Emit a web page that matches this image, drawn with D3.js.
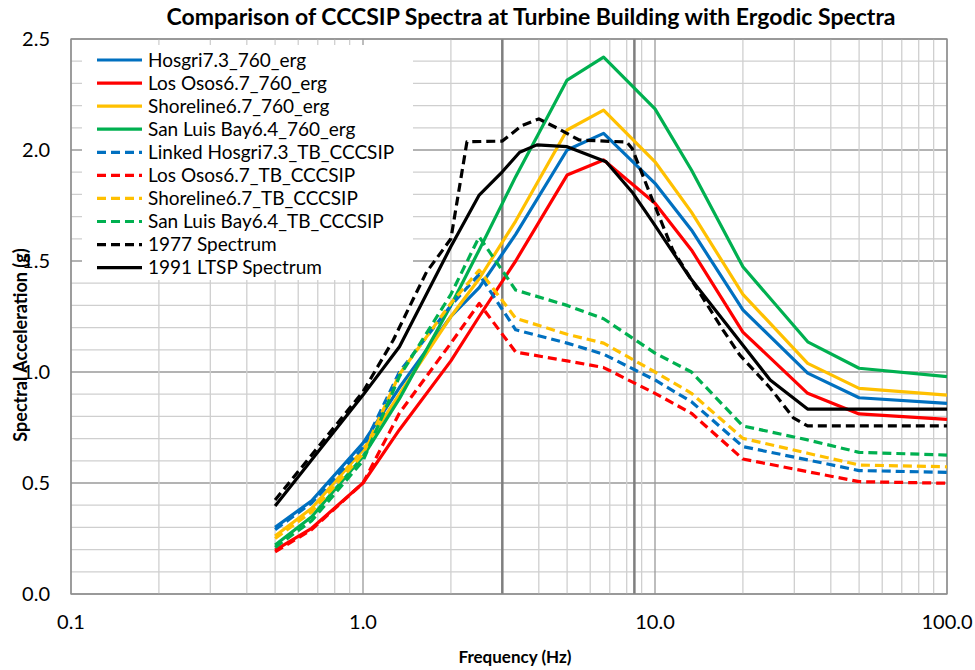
<!DOCTYPE html>
<html>
<head>
<meta charset="utf-8">
<script src="https://cdn.jsdelivr.net/npm/d3@7"></script>
<style>
  body { margin: 0; background: #fff; }
  text { font-family: Lato, "Liberation Sans", sans-serif; }
</style>
</head>
<body>
<script>
// Frequencies (Hz) shared by the ergodic and CCCSIP spectra
const freq = [0.5, 0.667, 1.0, 1.333, 2.0, 2.5, 3.333, 5.0, 6.667, 10.0, 13.33, 20.0, 33.33, 50.0, 100.0];

// Ergodic spectra (g)
const hosgriErg    = [0.30, 0.42, 0.68, 0.93, 1.25, 1.38, 1.62, 2.00, 2.075, 1.85, 1.64, 1.28, 0.995, 0.884, 0.859];
const losOsosErg   = [0.198, 0.296, 0.50, 0.74, 1.05, 1.25, 1.50, 1.887, 1.955, 1.76, 1.55, 1.18, 0.904, 0.811, 0.787];
const shorelineErg = [0.261, 0.386, 0.649, 0.90, 1.25, 1.42, 1.68, 2.09, 2.18, 1.947, 1.72, 1.35, 1.039, 0.926, 0.896];
const slbErg       = [0.221, 0.348, 0.619, 0.88, 1.30, 1.55, 1.88, 2.315, 2.418, 2.185, 1.91, 1.474, 1.136, 1.017, 0.979];

// Turbine building CCCSIP spectra (g)
const hosgriTB    = [0.29, 0.41, 0.66, 1.00, 1.30, 1.44, 1.19, 1.13, 1.08, 0.964, 0.866, 0.664, 0.604, 0.556, 0.548];
const losOsosTB   = [0.19, 0.29, 0.50, 0.815, 1.13, 1.309, 1.09, 1.05, 1.02, 0.904, 0.814, 0.608, 0.551, 0.506, 0.499];
const shorelineTB = [0.25, 0.37, 0.63, 0.99, 1.31, 1.459, 1.242, 1.17, 1.13, 1.00, 0.904, 0.701, 0.634, 0.581, 0.573];
const slbTB       = [0.21, 0.33, 0.60, 0.98, 1.35, 1.609, 1.369, 1.30, 1.24, 1.085, 1.00, 0.757, 0.694, 0.638, 0.626];

// 1977 spectrum
const freq1977 = [0.5, 1.0, 1.27, 1.45, 1.65, 2.0, 2.27, 3.0, 3.5, 4.0, 4.6, 5.5, 8.0, 8.35, 9.8, 11.5, 17.1, 19.5, 24.8, 29.8, 33.3, 100];
const sa1977   = [0.423, 0.911, 1.144, 1.30, 1.45, 1.60, 2.037, 2.04, 2.11, 2.14, 2.10, 2.045, 2.036, 2.007, 1.775, 1.55, 1.189, 1.077, 0.928, 0.793, 0.757, 0.757];

// 1991 LTSP spectrum
const freq1991 = [0.5, 1.0, 1.333, 2.0, 2.5, 3.0, 3.44, 3.94, 5.0, 6.8, 8.4, 9.8, 13.2, 24.8, 33.3, 100];
const sa1991   = [0.396, 0.896, 1.114, 1.565, 1.797, 1.902, 1.99, 2.023, 2.015, 1.947, 1.806, 1.677, 1.423, 0.964, 0.833, 0.833];

// Reference frequencies marked with vertical lines
const refFreqs = [3.0, 8.5];

const xTicks = [0.1, 1, 10, 100];
const yTicks = [0, 0.5, 1.0, 1.5, 2.0, 2.5];

const series = [
    {name: "Hosgri7.3_760_erg", f: freq, v: hosgriErg, color: "#0070C0", dash: false},
    {name: "Los Osos6.7_760_erg", f: freq, v: losOsosErg, color: "#FF0000", dash: false},
    {name: "Shoreline6.7_760_erg", f: freq, v: shorelineErg, color: "#FFC000", dash: false},
    {name: "San Luis Bay6.4_760_erg", f: freq, v: slbErg, color: "#00B050", dash: false},
    {name: "Linked Hosgri7.3_TB_CCCSIP", f: freq, v: hosgriTB, color: "#0070C0", dash: true},
    {name: "Los Osos6.7_TB_CCCSIP", f: freq, v: losOsosTB, color: "#FF0000", dash: true},
    {name: "Shoreline6.7_TB_CCCSIP", f: freq, v: shorelineTB, color: "#FFC000", dash: true},
    {name: "San Luis Bay6.4_TB_CCCSIP", f: freq, v: slbTB, color: "#00B050", dash: true},
    {name: "1977 Spectrum", f: freq1977, v: sa1977, color: "#000000", dash: true},
    {name: "1991 LTSP Spectrum", f: freq1991, v: sa1991, color: "#000000", dash: false}
];

const width = 975,
    height = 670;
const margin = {top: 39, right: 28, bottom: 76, left: 71};

const x = d3.scaleLog()
    .domain([0.1, 100])
    .range([margin.left, width - margin.right]);
const y = d3.scaleLinear()
    .domain([0, 2.5])
    .range([height - margin.bottom, margin.top]);

const svg = d3.select("body").append("svg")
    .attr("width", width)
    .attr("height", height);

// grid
const minorX = [];
for (const d of [0.1, 1, 10]) {
    for (let k = 1; k < 10; k++) minorX.push(k * d);
}
minorX.push(100);

const grid = svg.append("g");
grid.selectAll(".hgrid")
    .data(d3.range(0, 26).map(i => i / 10))
    .join("line")
    .attr("x1", x(0.1)).attr("x2", x(100))
    .attr("y1", d => y(d)).attr("y2", d => y(d))
    .attr("stroke", (d, i) => i % 5 === 0 ? "#9a9a9a" : "#cfcfcf")
    .attr("stroke-width", 1.3);

grid.selectAll(".vgrid")
    .data(minorX)
    .join("line")
    .attr("x1", d => x(d)).attr("x2", d => x(d))
    .attr("y1", y(0)).attr("y2", y(2.5))
    .attr("stroke", d => xTicks.includes(d) ? "#9a9a9a" : "#cfcfcf")
    .attr("stroke-width", 1.3);

grid.selectAll(".ref")
    .data(refFreqs)
    .join("line")
    .attr("x1", d => x(d)).attr("x2", d => x(d))
    .attr("y1", y(0)).attr("y2", y(2.5))
    .attr("stroke", "#7f7f7f")
    .attr("stroke-width", 2.5);

svg.append("rect")
    .attr("x", x(0.1)).attr("y", y(2.5))
    .attr("width", x(100) - x(0.1))
    .attr("height", y(0) - y(2.5))
    .attr("fill", "none")
    .attr("stroke", "#8c8c8c")
    .attr("stroke-width", 1.3);

// lines
const line = d3.line()
    .x(d => x(d[0]))
    .y(d => y(d[1]));

svg.append("g")
    .selectAll("path")
    .data(series)
    .join("path")
    .attr("d", s => line(s.f.map((f, i) => [f, s.v[i]])))
    .attr("fill", "none")
    .attr("stroke", s => s.color)
    .attr("stroke-width", 3.2)
    .attr("stroke-dasharray", s => s.dash ? "9,5" : null)
    .attr("stroke-linejoin", "round");

// axes labels
svg.append("g")
    .selectAll("text")
    .data(xTicks)
    .join("text")
    .attr("x", d => x(d))
    .attr("y", 629)
    .attr("text-anchor", "middle")
    .style("font-size", "20px")
    .text(d => d3.format(".1f")(d));

svg.append("g")
    .selectAll("text")
    .data(yTicks)
    .join("text")
    .attr("x", 50)
    .attr("y", d => y(d) + 7)
    .attr("text-anchor", "end")
    .style("font-size", "20px")
    .text(d => d3.format(".1f")(d));

svg.append("text")
    .attr("x", 515)
    .attr("y", 663)
    .attr("text-anchor", "middle")
    .style("font-size", "17px")
    .style("font-weight", "bold")
    .text("Frequency (Hz)");

svg.append("text")
    .attr("transform", "translate(27,345) rotate(-90)")
    .attr("text-anchor", "middle")
    .style("font-size", "18px")
    .style("font-weight", "bold")
    .text("Spectral Acceleration (g)");

svg.append("text")
    .attr("x", 531)
    .attr("y", 25)
    .attr("text-anchor", "middle")
    .style("font-size", "23px")
    .style("font-weight", "bold")
    .text("Comparison of CCCSIP Spectra at Turbine Building with Ergodic Spectra");

// legend
const legend = svg.append("g");
legend.append("rect")
    .attr("x", 82).attr("y", 45)
    .attr("width", 331).attr("height", 235)
    .attr("fill", "#fff");

const item = legend.selectAll("g")
    .data(series)
    .join("g")
    .attr("transform", (d, i) => `translate(0,${60 + i * 23.07})`);

item.append("line")
    .attr("x1", 97).attr("x2", 142)
    .attr("stroke", d => d.color)
    .attr("stroke-width", 3.2)
    .attr("stroke-dasharray", d => d.dash ? "9,5" : null);

item.append("text")
    .attr("x", 148)
    .attr("y", 6.5)
    .style("font-size", "19px")
    .text(d => d.name);
</script>
</body>
</html>
